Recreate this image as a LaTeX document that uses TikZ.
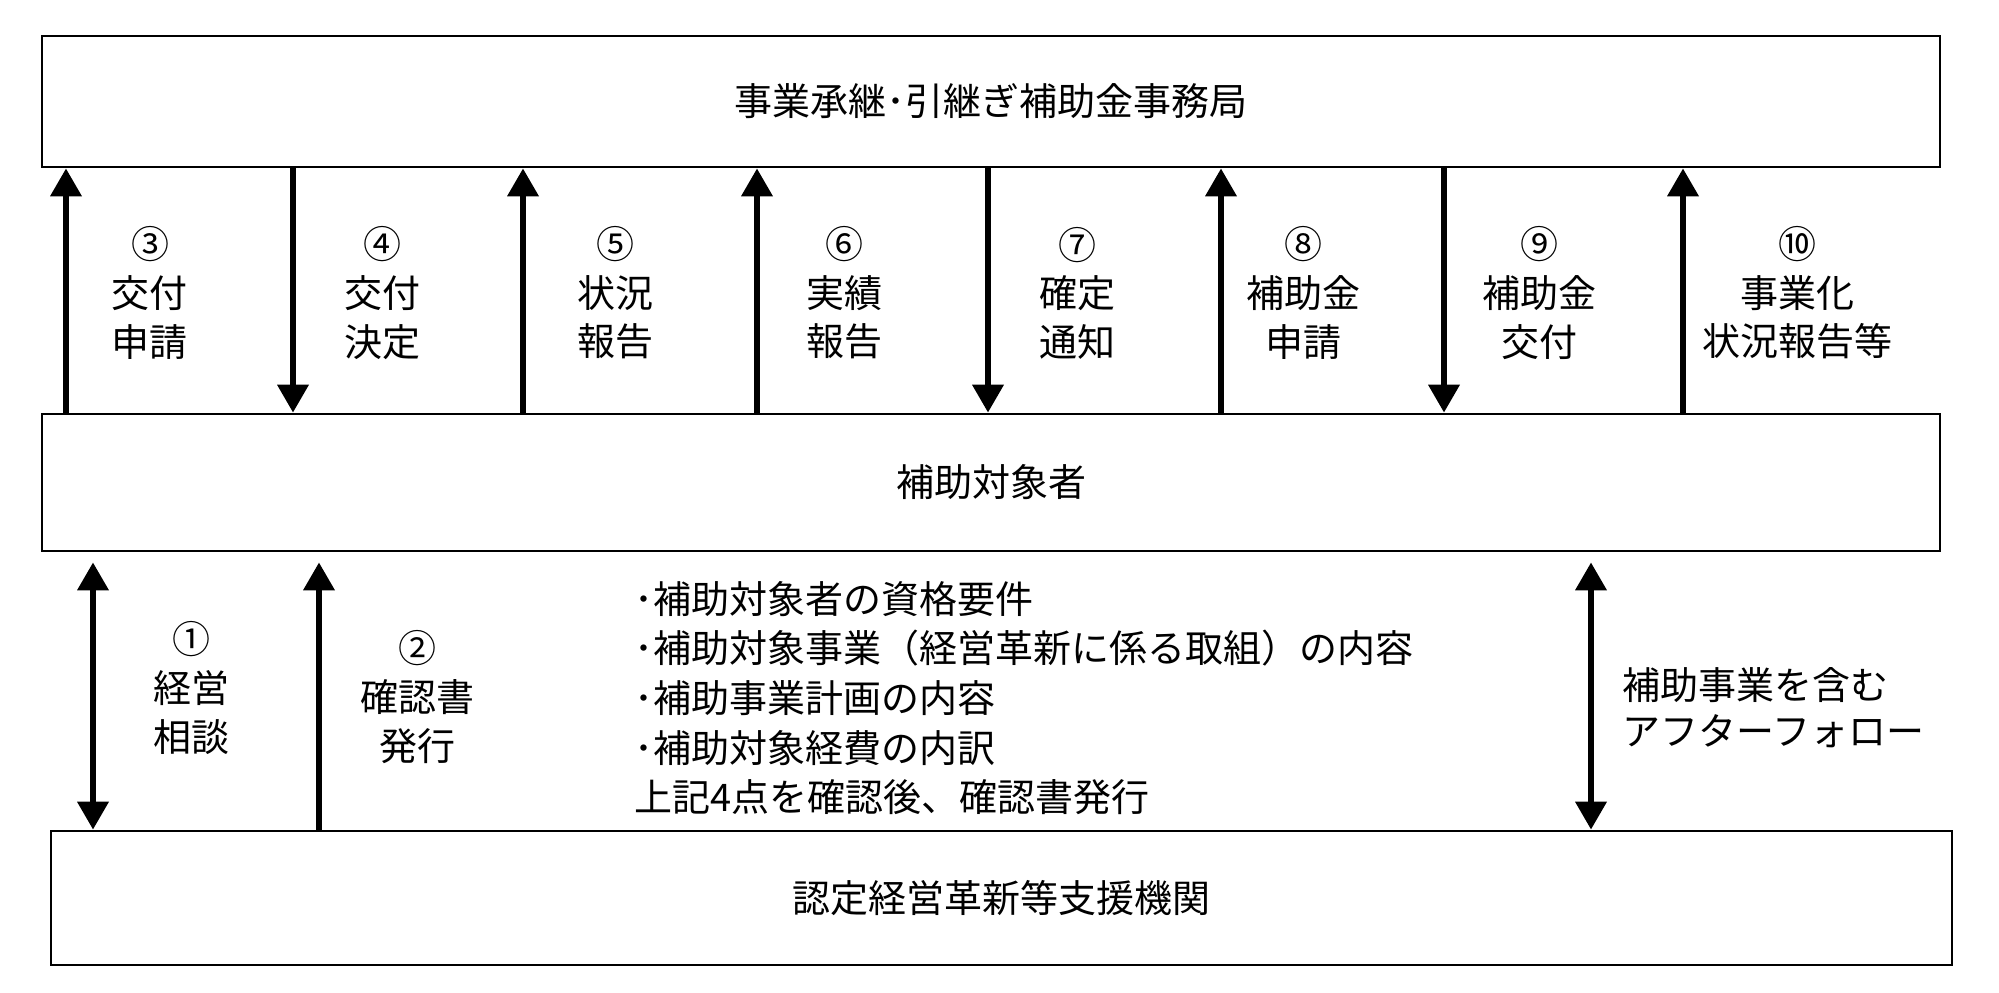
\documentclass[tikz,border=0pt]{standalone}
\usepackage{fontspec}
\setmainfont{Noto Sans CJK JP}
\usetikzlibrary{arrows.meta}
\begin{document}
\begin{tikzpicture}[x=0.5pt,y=-0.5pt,
  box/.style={draw, line width=1.3pt, inner sep=0, font=\fontsize{19}{24}\selectfont},
  flow/.style={line width=3.3pt, -{Triangle[width=15pt,length=14pt]}},
  flowboth/.style={line width=3.3pt, {Triangle[width=15pt,length=14pt]}-{Triangle[width=15pt,length=14pt]}},
  lbl/.style={align=center, inner sep=0, font=\fontsize{19}{24.3}\selectfont},
]
\useasboundingbox (0,0) rectangle (1999,992);
\fill[white] (0,0) rectangle (1999,992);

\node[box, minimum width=949pt, minimum height=65.5pt] (top) at (991,101.5) {事業承継･引継ぎ補助金事務局};
\node[box, minimum width=949pt, minimum height=68.5pt] (mid) at (991,482.5) {補助対象者};
\node[box, minimum width=950.5pt, minimum height=67pt] (bot) at (1001.5,898) {認定経営革新等支援機関};

% upper arrows
\coordinate (u3) at (66,0);
\coordinate (u4) at (293,0);
\coordinate (u5) at (523,0);
\coordinate (u6) at (757,0);
\coordinate (u7) at (988,0);
\coordinate (u8) at (1221,0);
\coordinate (u9) at (1444,0);
\coordinate (u10) at (1683,0);
\draw[flow] (u3 |- mid.north) -- (u3 |- top.south);
\draw[flow] (u4 |- top.south) -- (u4 |- mid.north);
\draw[flow] (u5 |- mid.north) -- (u5 |- top.south);
\draw[flow] (u6 |- mid.north) -- (u6 |- top.south);
\draw[flow] (u7 |- top.south) -- (u7 |- mid.north);
\draw[flow] (u8 |- mid.north) -- (u8 |- top.south);
\draw[flow] (u9 |- top.south) -- (u9 |- mid.north);
\draw[flow] (u10 |- mid.north) -- (u10 |- top.south);

\node[lbl] (t3) at (150,293) {③\\交付\\申請};
\node[lbl] (t4) at (382,293) {④\\交付\\決定};
\node[lbl] (t5) at (615,293) {⑤\\状況\\報告};
\node[lbl] (t6) at (844,293) {⑥\\実績\\報告};
\node[lbl] (t7) at (1077,293) {⑦\\確定\\通知};
\node[lbl] (t8) at (1303,293) {⑧\\補助金\\申請};
\node[lbl] (t9) at (1539,293) {⑨\\補助金\\交付};
\node[lbl] (t10) at (1797,293) {⑩\\事業化\\状況報告等};

% lower arrows
\coordinate (l1) at (93,0);
\coordinate (l2) at (319,0);
\coordinate (l3) at (1591,0);
\draw[flowboth, shorten >=5pt] (l1 |- bot.north) -- (l1 |- mid.south);
\draw[flow, shorten >=5pt] (l2 |- bot.north) -- (l2 |- mid.south);
\draw[flowboth, shorten >=5pt] (l3 |- bot.north) -- (l3 |- mid.south);

\node[lbl] (t1) at (191,688) {①\\経営\\相談};
\node[lbl] (t2) at (417,697) {②\\確認書\\発行};

\node[anchor=west, align=left, inner sep=0, font=\fontsize{19}{24.8}\selectfont] (note) at (634,698)
  {･補助対象者の資格要件\\･補助対象事業（経営革新に係る取組）の内容\\･補助事業計画の内容\\･補助対象経費の内訳\\上記4点を確認後、確認書発行};

\node[anchor=west, align=left, inner sep=0, font=\fontsize{19}{23}\selectfont] (after) at (1622,708)
  {補助事業を含む\\アフターフォロー};
\end{tikzpicture}
\end{document}
